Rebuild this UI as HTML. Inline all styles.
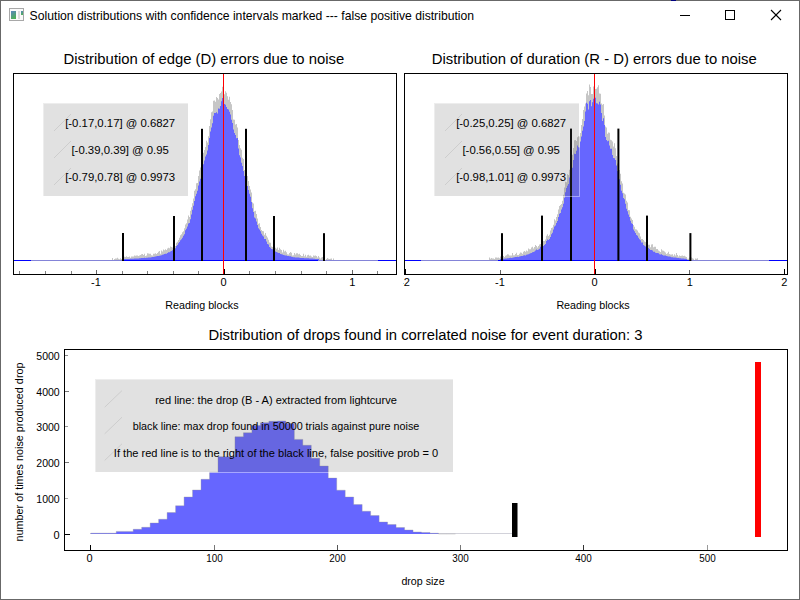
<!DOCTYPE html><html><head><meta charset="utf-8"><style>html,body{margin:0;padding:0;background:#fff;}svg{display:block;}text{font-family:"Liberation Sans",sans-serif;fill:#000;}</style></head><body>
<svg width="800" height="600" viewBox="0 0 800 600">
<rect x="0" y="0" width="800" height="600" fill="#fff"/>
<defs><clipPath id="clipR"><rect x="403" y="270" width="20" height="30"/></clipPath></defs>
<rect x="0.5" y="0.5" width="799" height="599" fill="none" stroke="#686868" stroke-width="1"/><rect x="671" y="0" width="5" height="1" fill="#000080"/>
<g shape-rendering="crispEdges">
<rect x="9.5" y="8.5" width="14" height="12" fill="#fafafa" stroke="#a8a8a8"/>
<defs><linearGradient id="ig" x1="0" y1="0" x2="0.4" y2="1"><stop offset="0" stop-color="#5a84c0"/><stop offset="1" stop-color="#4cae5a"/></linearGradient></defs>
<rect x="11" y="11" width="5" height="8" fill="url(#ig)"/>
<rect x="18" y="11" width="2" height="8" fill="#dcdcdc"/>
<rect x="21" y="11" width="2" height="4" fill="url(#ig)"/>
</g>
<text x="29.6" y="20" font-size="12.4" text-anchor="start" textLength="444.5" lengthAdjust="spacingAndGlyphs" >Solution distributions with confidence intervals marked --- false positive distribution</text>
<g stroke="#000" stroke-width="1" fill="none" shape-rendering="crispEdges">
<line x1="680" y1="15.5" x2="690" y2="15.5"/>
<rect x="725.5" y="10.5" width="9" height="9"/>
</g>
<g stroke="#000" stroke-width="1.1" fill="none"><line x1="771" y1="10" x2="781" y2="20"/><line x1="781" y1="10" x2="771" y2="20"/></g>
<text x="203.85" y="63.5" font-size="14.75" text-anchor="middle" textLength="280.6" lengthAdjust="spacingAndGlyphs" >Distribution of edge (D) errors due to noise</text>
<path d="M14,260V260.0H15V260.0H16V260.0H17V260.0H18V260.0H19V260.0H20V260.0H21V260.0H22V260.0H23V260.0H24V260.0H25V260.0H26V260.0H27V260.0H28V260.0H29V260.0H30V260.0H31V260.0H32V260.0H33V260.0H34V260.0H35V260.0H36V260.0H37V260.0H38V260.0H39V260.0H40V260.0H41V260.0H42V260.0H43V260.0H44V260.0H45V260.0H46V260.0H47V260.0H48V260.0H49V260.0H50V260.0H51V260.0H52V260.0H53V260.0H54V260.0H55V260.0H56V260.0H57V260.0H58V260.0H59V260.0H60V260.0H61V260.0H62V260.0H63V260.0H64V260.0H65V260.0H66V260.0H67V260.0H68V260.0H69V260.0H70V260.0H71V260.0H72V260.0H73V260.0H74V260.0H75V260.0H76V260.0H77V260.0H78V260.0H79V260.0H80V260.0H81V260.0H82V260.0H83V260.0H84V260.0H85V260.0H86V260.0H87V260.0H88V260.0H89V260.0H90V260.0H91V260.0H92V260.0H93V260.0H94V260.0H95V260.0H96V260.0H97V260.0H98V260.0H99V260.0H100V260.0H101V260.0H102V260.0H103V260.0H104V260.0H105V260.0H106V260.0H107V260.0H108V260.0H109V260.0H110V260.0H111V260.0H112V258.1H113V260.0H114V258.9H115V258.4H116V258.5H117V257.7H118V258.7H119V259.2H120V258.3H121V258.9H122V257.7H123V257.2H124V256.7H125V257.0H126V256.2H127V257.0H128V256.9H129V256.5H130V257.7H131V256.6H132V256.4H133V256.5H134V255.4H135V255.8H136V255.5H137V255.5H138V255.9H139V255.5H140V255.1H141V254.2H142V253.9H143V255.0H144V253.8H145V256.0H146V255.4H147V253.2H148V253.6H149V253.7H150V253.7H151V255.2H152V255.6H153V253.8H154V253.8H155V253.2H156V253.9H157V252.9H158V251.7H159V251.0H160V253.7H161V250.5H162V251.5H163V249.5H164V250.3H165V249.3H166V249.9H167V248.4H168V247.7H169V248.2H170V246.4H171V247.0H172V247.4H173V247.7H174V244.5H175V245.9H176V242.8H177V241.8H178V239.9H179V237.8H180V235.3H181V234.2H182V232.3H183V231.2H184V228.3H185V224.4H186V223.2H187V219.6H188V215.5H189V217.0H190V210.7H191V207.2H192V203.3H193V198.5H194V190.8H195V189.3H196V183.2H197V183.0H198V176.1H199V170.5H200V167.6H201V161.2H202V156.6H203V152.8H204V150.0H205V147.0H206V140.8H207V142.4H208V136.2H209V126.1H210V119.3H211V112.3H212V111.4H213V100.8H214V100.5H215V101.7H216V97.0H217V98.1H218V99.5H219V93.9H220V92.9H221V91.5H222V86.7H223V83.3H224V94.3H225V91.3H226V92.8H227V96.3H228V99.8H229V96.8H230V102.1H231V104.3H232V110.1H233V119.4H234V119.7H235V124.6H236V124.0H237V127.4H238V140.1H239V145.1H240V148.2H241V149.8H242V157.7H243V159.0H244V169.9H245V172.7H246V174.8H247V176.0H248V180.9H249V186.1H250V189.4H251V192.6H252V202.4H253V203.6H254V211.2H255V210.8H256V214.1H257V218.5H258V223.7H259V223.2H260V226.9H261V230.1H262V230.9H263V231.2H264V234.8H265V233.0H266V235.8H267V237.5H268V239.8H269V242.4H270V242.8H271V246.6H272V247.1H273V245.6H274V246.7H275V247.7H276V248.7H277V247.6H278V249.9H279V247.7H280V249.3H281V250.0H282V252.4H283V249.7H284V251.4H285V250.8H286V252.3H287V254.2H288V254.4H289V253.1H290V251.9H291V252.8H292V255.5H293V255.3H294V252.9H295V254.4H296V253.2H297V253.3H298V254.2H299V253.7H300V254.9H301V256.1H302V256.1H303V253.8H304V256.2H305V254.7H306V256.7H307V255.3H308V254.7H309V255.7H310V255.6H311V256.4H312V257.1H313V255.4H314V255.8H315V255.4H316V256.0H317V257.4H318V256.1H319V257.6H320V258.4H321V257.6H322V256.9H323V259.0H324V257.9H325V260.0H326V259.1H327V258.0H328V258.7H329V259.0H330V258.7H331V258.4H332V260.0H333V258.5H334V260.0H335V260.0H336V260.0H337V260.0H338V260.0H339V260.0H340V260.0H341V260.0H342V260.0H343V260.0H344V260.0H345V260.0H346V260.0H347V260.0H348V260.0H349V260.0H350V260.0H351V260.0H352V260.0H353V260.0H354V260.0H355V260.0H356V260.0H357V260.0H358V260.0H359V260.0H360V260.0H361V260.0H362V260.0H363V260.0H364V260.0H365V260.0H366V260.0H367V260.0H368V260.0H369V260.0H370V260.0H371V260.0H372V260.0H373V260.0H374V260.0H375V260.0H376V260.0H377V260.0H378V260.0H379V260.0H380V260.0H381V260.0H382V260.0H383V260.0H384V260.0H385V260.0H386V260.0H387V260.0H388V260.0H389V260.0H390V260.0H391V260.0H392V260.0H393V260.0H394V260.0H395V260.0H396V260Z" fill="#c6c6c6"/>
<path d="M14,260V260.0H15V260.0H16V260.0H17V260.0H18V260.0H19V260.0H20V260.0H21V260.0H22V260.0H23V260.0H24V260.0H25V260.0H26V260.0H27V260.0H28V260.0H29V260.0H30V260.0H31V260.0H32V260.0H33V260.0H34V260.0H35V260.0H36V260.0H37V260.0H38V260.0H39V260.0H40V260.0H41V260.0H42V260.0H43V260.0H44V260.0H45V260.0H46V260.0H47V260.0H48V260.0H49V260.0H50V260.0H51V260.0H52V260.0H53V260.0H54V260.0H55V260.0H56V260.0H57V260.0H58V260.0H59V260.0H60V260.0H61V260.0H62V260.0H63V260.0H64V260.0H65V260.0H66V260.0H67V260.0H68V260.0H69V260.0H70V260.0H71V260.0H72V260.0H73V260.0H74V260.0H75V260.0H76V260.0H77V260.0H78V260.0H79V260.0H80V260.0H81V260.0H82V260.0H83V260.0H84V260.0H85V260.0H86V260.0H87V260.0H88V260.0H89V260.0H90V260.0H91V260.0H92V260.0H93V260.0H94V260.0H95V260.0H96V260.0H97V260.0H98V260.0H99V260.0H100V260.0H101V260.0H102V260.0H103V260.0H104V260.0H105V260.0H106V260.0H107V260.0H108V260.0H109V260.0H110V260.0H111V260.0H112V260.0H113V260.0H114V260.0H115V260.0H116V260.0H117V260.0H118V260.0H119V260.0H120V260.0H121V260.0H122V260.0H123V259.0H124V259.0H125V259.0H126V259.0H127V258.9H128V258.9H129V258.9H130V258.8H131V258.7H132V258.7H133V258.7H134V258.6H135V258.6H136V258.4H137V258.4H138V258.4H139V258.3H140V258.3H141V258.1H142V258.1H143V258.0H144V257.8H145V258.0H146V257.8H147V257.7H148V257.5H149V257.6H150V257.5H151V257.3H152V257.1H153V257.0H154V256.8H155V256.5H156V256.2H157V256.0H158V256.0H159V255.8H160V255.4H161V255.2H162V254.8H163V254.5H164V254.1H165V253.8H166V253.8H167V253.0H168V252.2H169V252.2H170V251.6H171V251.1H172V250.3H173V250.0H174V248.2H175V248.3H176V246.1H177V244.9H178V243.3H179V242.1H180V240.2H181V239.3H182V237.8H183V235.8H184V234.3H185V230.3H186V228.8H187V226.5H188V223.4H189V223.0H190V219.2H191V214.4H192V209.7H193V205.7H194V201.0H195V196.2H196V193.7H197V190.7H198V185.5H199V181.6H200V178.8H201V173.5H202V167.5H203V164.2H204V160.6H205V156.6H206V154.5H207V150.5H208V145.0H209V138.0H210V131.4H211V127.6H212V123.3H213V115.8H214V112.9H215V113.0H216V112.3H217V113.6H218V108.6H219V108.7H220V106.0H221V101.2H222V97.9H223V98.0H224V104.1H225V104.7H226V106.9H227V108.9H228V109.4H229V111.7H230V114.5H231V119.7H232V123.0H233V129.5H234V133.0H235V135.1H236V138.3H237V137.9H238V148.5H239V155.2H240V157.6H241V162.8H242V166.1H243V171.0H244V176.1H245V179.4H246V182.4H247V186.0H248V189.9H249V193.8H250V196.8H251V202.0H252V208.2H253V212.0H254V217.5H255V218.4H256V221.6H257V225.1H258V228.2H259V229.5H260V231.2H261V233.7H262V235.5H263V236.4H264V239.0H265V238.9H266V241.4H267V243.9H268V244.4H269V246.9H270V247.7H271V248.9H272V249.3H273V250.8H274V251.4H275V251.5H276V252.1H277V252.4H278V252.9H279V253.1H280V253.9H281V254.3H282V254.5H283V254.9H284V255.2H285V255.4H286V255.6H287V255.9H288V256.0H289V256.2H290V256.3H291V256.7H292V257.0H293V257.2H294V257.3H295V257.6H296V257.6H297V257.5H298V257.6H299V257.7H300V257.9H301V257.9H302V258.1H303V258.1H304V258.2H305V258.2H306V258.2H307V258.3H308V258.3H309V258.5H310V258.5H311V258.6H312V258.6H313V258.7H314V258.8H315V258.9H316V258.9H317V258.9H318V259.0H319V260.0H320V260.0H321V260.0H322V260.0H323V260.0H324V260.0H325V260.0H326V260.0H327V260.0H328V260.0H329V260.0H330V260.0H331V260.0H332V260.0H333V260.0H334V260.0H335V260.0H336V260.0H337V260.0H338V260.0H339V260.0H340V260.0H341V260.0H342V260.0H343V260.0H344V260.0H345V260.0H346V260.0H347V260.0H348V260.0H349V260.0H350V260.0H351V260.0H352V260.0H353V260.0H354V260.0H355V260.0H356V260.0H357V260.0H358V260.0H359V260.0H360V260.0H361V260.0H362V260.0H363V260.0H364V260.0H365V260.0H366V260.0H367V260.0H368V260.0H369V260.0H370V260.0H371V260.0H372V260.0H373V260.0H374V260.0H375V260.0H376V260.0H377V260.0H378V260.0H379V260.0H380V260.0H381V260.0H382V260.0H383V260.0H384V260.0H385V260.0H386V260.0H387V260.0H388V260.0H389V260.0H390V260.0H391V260.0H392V260.0H393V260.0H394V260.0H395V260.0H396V260Z" fill="#6666ff"/>
<line x1="13" y1="260.5" x2="396" y2="260.5" stroke="#8484d8" stroke-width="1"/>
<line x1="13" y1="260.5" x2="31" y2="260.5" stroke="#0000ff" stroke-width="1"/>
<line x1="123" y1="260.5" x2="318" y2="260.5" stroke="#0000ff" stroke-width="1"/>
<line x1="378" y1="260.5" x2="396" y2="260.5" stroke="#0000ff" stroke-width="1"/>
<rect x="201" y="128.8" width="2" height="132.2" fill="#000"/>
<rect x="245" y="128.8" width="2" height="132.2" fill="#000"/>
<rect x="173" y="216" width="2" height="45" fill="#000"/>
<rect x="273" y="216" width="2" height="45" fill="#000"/>
<rect x="122" y="233" width="2" height="28" fill="#000"/>
<rect x="323" y="233.2" width="2" height="27.80000000000001" fill="#000"/>
<rect x="223" y="74" width="1" height="200" fill="#ff0000"/>
<rect x="43" y="103" width="145" height="93" fill="rgba(100,100,100,0.196)"/>
<rect x="43.5" y="103.5" width="145" height="93" fill="none" stroke="rgba(255,255,255,0.42)" stroke-width="1"/>
<line x1="54" y1="131" x2="71" y2="114" stroke="#c4c4c4" stroke-width="0.7"/>
<text x="120.2" y="127" font-size="11.1" text-anchor="middle" textLength="110" lengthAdjust="spacingAndGlyphs" >[-0.17,0.17] @ 0.6827</text>
<line x1="54" y1="158" x2="71" y2="141" stroke="#c4c4c4" stroke-width="0.7"/>
<text x="120.2" y="154" font-size="11.1" text-anchor="middle" textLength="97.5" lengthAdjust="spacingAndGlyphs" >[-0.39,0.39] @ 0.95</text>
<line x1="54" y1="185" x2="71" y2="168" stroke="#c4c4c4" stroke-width="0.7"/>
<text x="120.2" y="181" font-size="11.1" text-anchor="middle" textLength="110" lengthAdjust="spacingAndGlyphs" >[-0.79,0.78] @ 0.9973</text>
<rect x="13.5" y="73.5" width="383" height="201" fill="none" stroke="#000" stroke-width="1" shape-rendering="crispEdges"/>
<line x1="19.5" y1="271" x2="19.5" y2="274" stroke="#808080" stroke-width="1" shape-rendering="crispEdges"/>
<line x1="45.5" y1="271" x2="45.5" y2="274" stroke="#808080" stroke-width="1" shape-rendering="crispEdges"/>
<line x1="71.5" y1="271" x2="71.5" y2="274" stroke="#808080" stroke-width="1" shape-rendering="crispEdges"/>
<line x1="122.5" y1="271" x2="122.5" y2="274" stroke="#808080" stroke-width="1" shape-rendering="crispEdges"/>
<line x1="147.5" y1="271" x2="147.5" y2="274" stroke="#808080" stroke-width="1" shape-rendering="crispEdges"/>
<line x1="173.5" y1="271" x2="173.5" y2="274" stroke="#808080" stroke-width="1" shape-rendering="crispEdges"/>
<line x1="198.5" y1="271" x2="198.5" y2="274" stroke="#808080" stroke-width="1" shape-rendering="crispEdges"/>
<line x1="249.5" y1="271" x2="249.5" y2="274" stroke="#808080" stroke-width="1" shape-rendering="crispEdges"/>
<line x1="275.5" y1="271" x2="275.5" y2="274" stroke="#808080" stroke-width="1" shape-rendering="crispEdges"/>
<line x1="301.5" y1="271" x2="301.5" y2="274" stroke="#808080" stroke-width="1" shape-rendering="crispEdges"/>
<line x1="326.5" y1="271" x2="326.5" y2="274" stroke="#808080" stroke-width="1" shape-rendering="crispEdges"/>
<line x1="377.5" y1="271" x2="377.5" y2="274" stroke="#808080" stroke-width="1" shape-rendering="crispEdges"/>
<line x1="96.5" y1="270" x2="96.5" y2="274" stroke="#666" stroke-width="1" shape-rendering="crispEdges"/>
<text x="96" y="286" font-size="11" text-anchor="middle" >-1</text>
<line x1="224.5" y1="269" x2="224.5" y2="274" stroke="#000" stroke-width="1" shape-rendering="crispEdges"/>
<text x="223.5" y="286" font-size="11" text-anchor="middle" >0</text>
<line x1="352.5" y1="270" x2="352.5" y2="274" stroke="#666" stroke-width="1" shape-rendering="crispEdges"/>
<text x="352.3" y="286" font-size="11" text-anchor="middle" >1</text>
<text x="201.9" y="309" font-size="11" text-anchor="middle" textLength="73.2" lengthAdjust="spacingAndGlyphs" >Reading blocks</text>
<text x="594.25" y="63.5" font-size="14.75" text-anchor="middle" textLength="325" lengthAdjust="spacingAndGlyphs" >Distribution of duration (R - D) errors due to noise</text>
<path d="M405,260V260.0H406V260.0H407V260.0H408V260.0H409V260.0H410V260.0H411V260.0H412V260.0H413V260.0H414V260.0H415V260.0H416V260.0H417V260.0H418V260.0H419V260.0H420V260.0H421V260.0H422V260.0H423V260.0H424V260.0H425V260.0H426V260.0H427V260.0H428V260.0H429V260.0H430V260.0H431V260.0H432V260.0H433V260.0H434V260.0H435V260.0H436V260.0H437V260.0H438V260.0H439V260.0H440V260.0H441V260.0H442V260.0H443V260.0H444V260.0H445V260.0H446V260.0H447V260.0H448V260.0H449V260.0H450V260.0H451V260.0H452V260.0H453V260.0H454V260.0H455V260.0H456V260.0H457V260.0H458V260.0H459V260.0H460V260.0H461V260.0H462V260.0H463V260.0H464V260.0H465V260.0H466V260.0H467V260.0H468V260.0H469V260.0H470V260.0H471V260.0H472V260.0H473V260.0H474V260.0H475V260.0H476V260.0H477V260.0H478V260.0H479V260.0H480V260.0H481V260.0H482V260.0H483V260.0H484V260.0H485V260.0H486V260.0H487V260.0H488V260.0H489V257.6H490V258.8H491V257.9H492V258.4H493V258.6H494V258.9H495V257.6H496V257.5H497V257.7H498V257.6H499V258.2H500V256.6H501V255.8H502V255.9H503V256.1H504V256.9H505V255.7H506V255.2H507V254.3H508V254.4H509V255.4H510V255.6H511V255.5H512V253.1H513V255.2H514V255.2H515V254.0H516V252.8H517V255.0H518V255.0H519V253.7H520V252.6H521V252.8H522V253.7H523V251.8H524V251.1H525V251.7H526V250.6H527V251.2H528V248.4H529V249.3H530V249.3H531V247.4H532V246.7H533V248.6H534V247.1H535V244.9H536V246.1H537V247.4H538V246.1H539V244.5H540V243.9H541V244.5H542V242.2H543V241.1H544V241.0H545V239.5H546V235.8H547V234.3H548V236.1H549V234.8H550V230.4H551V228.1H552V227.5H553V224.7H554V219.2H555V220.6H556V217.1H557V214.3H558V209.4H559V206.1H560V205.1H561V204.0H562V200.7H563V194.8H564V187.4H565V181.8H566V182.2H567V174.2H568V175.0H569V169.8H570V166.2H571V162.9H572V154.7H573V148.1H574V140.3H575V140.0H576V140.9H577V137.3H578V136.3H579V136.6H580V133.1H581V125.0H582V118.9H583V109.9H584V106.6H585V103.4H586V93.4H587V90.9H588V95.3H589V84.6H590V87.1H591V93.9H592V94.0H593V86.6H594V80.5H595V89.1H596V88.7H597V87.2H598V85.2H599V93.6H600V93.8H601V103.4H602V104.8H603V104.0H604V115.4H605V126.4H606V127.6H607V133.8H608V132.4H609V132.7H610V139.7H611V140.3H612V141.6H613V146.4H614V143.2H615V148.2H616V156.0H617V163.6H618V165.2H619V170.0H620V173.8H621V181.3H622V183.5H623V192.7H624V193.4H625V194.5H626V200.8H627V202.6H628V209.9H629V210.3H630V216.7H631V218.6H632V220.0H633V225.1H634V226.8H635V229.3H636V229.4H637V230.5H638V232.4H639V233.2H640V236.5H641V238.9H642V239.0H643V240.1H644V241.5H645V242.1H646V243.8H647V244.5H648V244.8H649V244.7H650V247.3H651V244.4H652V244.2H653V247.3H654V246.7H655V246.8H656V248.9H657V249.1H658V250.4H659V251.2H660V252.0H661V249.3H662V250.6H663V250.7H664V251.5H665V252.6H666V254.0H667V253.3H668V251.8H669V253.9H670V254.5H671V254.5H672V254.3H673V255.8H674V254.3H675V255.6H676V253.0H677V255.0H678V256.4H679V255.5H680V256.0H681V255.7H682V255.6H683V255.9H684V255.7H685V256.4H686V256.9H687V258.8H688V258.7H689V257.5H690V258.8H691V257.6H692V258.2H693V258.8H694V260.0H695V258.4H696V258.7H697V258.3H698V260.0H699V260.0H700V260.0H701V260.0H702V260.0H703V260.0H704V260.0H705V260.0H706V260.0H707V260.0H708V260.0H709V260.0H710V260.0H711V260.0H712V260.0H713V260.0H714V260.0H715V260.0H716V260.0H717V260.0H718V260.0H719V260.0H720V260.0H721V260.0H722V260.0H723V260.0H724V260.0H725V260.0H726V260.0H727V260.0H728V260.0H729V260.0H730V260.0H731V260.0H732V260.0H733V260.0H734V260.0H735V260.0H736V260.0H737V260.0H738V260.0H739V260.0H740V260.0H741V260.0H742V260.0H743V260.0H744V260.0H745V260.0H746V260.0H747V260.0H748V260.0H749V260.0H750V260.0H751V260.0H752V260.0H753V260.0H754V260.0H755V260.0H756V260.0H757V260.0H758V260.0H759V260.0H760V260.0H761V260.0H762V260.0H763V260.0H764V260.0H765V260.0H766V260.0H767V260.0H768V260.0H769V260.0H770V260.0H771V260.0H772V260.0H773V260.0H774V260.0H775V260.0H776V260.0H777V260.0H778V260.0H779V260.0H780V260.0H781V260.0H782V260.0H783V260.0H784V260.0H785V260.0H786V260.0H787V260Z" fill="#c6c6c6"/>
<path d="M405,260V260.0H406V260.0H407V260.0H408V260.0H409V260.0H410V260.0H411V260.0H412V260.0H413V260.0H414V260.0H415V260.0H416V260.0H417V260.0H418V260.0H419V260.0H420V260.0H421V260.0H422V260.0H423V260.0H424V260.0H425V260.0H426V260.0H427V260.0H428V260.0H429V260.0H430V260.0H431V260.0H432V260.0H433V260.0H434V260.0H435V260.0H436V260.0H437V260.0H438V260.0H439V260.0H440V260.0H441V260.0H442V260.0H443V260.0H444V260.0H445V260.0H446V260.0H447V260.0H448V260.0H449V260.0H450V260.0H451V260.0H452V260.0H453V260.0H454V260.0H455V260.0H456V260.0H457V260.0H458V260.0H459V260.0H460V260.0H461V260.0H462V260.0H463V260.0H464V260.0H465V260.0H466V260.0H467V260.0H468V260.0H469V260.0H470V260.0H471V260.0H472V260.0H473V260.0H474V260.0H475V260.0H476V260.0H477V260.0H478V260.0H479V260.0H480V260.0H481V260.0H482V260.0H483V260.0H484V260.0H485V260.0H486V260.0H487V260.0H488V260.0H489V260.0H490V260.0H491V260.0H492V260.0H493V260.0H494V260.0H495V260.0H496V260.0H497V260.0H498V260.0H499V260.0H500V258.9H501V258.9H502V258.8H503V258.8H504V258.7H505V258.5H506V258.5H507V258.3H508V258.2H509V258.0H510V257.8H511V258.0H512V257.8H513V257.4H514V257.3H515V257.1H516V257.0H517V256.8H518V256.9H519V256.5H520V256.3H521V256.1H522V255.9H523V255.6H524V255.2H525V255.5H526V254.8H527V254.4H528V254.2H529V253.8H530V253.3H531V253.0H532V252.3H533V252.0H534V251.5H535V250.6H536V249.6H537V249.9H538V249.5H539V248.7H540V246.8H541V247.3H542V246.6H543V246.1H544V245.1H545V243.9H546V241.0H547V239.6H548V240.0H549V239.1H550V237.0H551V234.2H552V232.8H553V229.5H554V226.4H555V225.6H556V223.0H557V221.0H558V217.1H559V213.8H560V212.9H561V209.6H562V207.3H563V203.8H564V197.8H565V192.3H566V188.0H567V185.7H568V183.9H569V177.6H570V172.9H571V169.6H572V167.8H573V160.1H574V153.8H575V153.9H576V150.8H577V145.6H578V147.3H579V147.5H580V141.5H581V136.6H582V130.8H583V126.6H584V120.9H585V111.4H586V102.8H587V103.8H588V109.5H589V101.3H590V100.1H591V106.2H592V102.3H593V98.7H594V96.4H595V97.8H596V103.3H597V103.6H598V104.4H599V101.8H600V104.4H601V113.1H602V121.0H603V118.3H604V125.1H605V136.9H606V140.1H607V141.2H608V140.7H609V145.5H610V148.8H611V148.8H612V154.9H613V158.1H614V158.2H615V159.9H616V165.6H617V170.9H618V175.6H619V179.2H620V184.7H621V190.7H622V193.3H623V198.1H624V199.2H625V203.8H626V208.8H627V211.3H628V214.6H629V216.9H630V220.8H631V223.2H632V224.0H633V229.5H634V231.3H635V232.9H636V234.9H637V235.7H638V237.7H639V239.3H640V240.2H641V242.4H642V242.6H643V245.0H644V245.7H645V246.4H646V246.7H647V247.1H648V248.1H649V248.9H650V250.0H651V250.0H652V250.5H653V251.8H654V251.7H655V252.7H656V253.1H657V253.0H658V253.3H659V254.2H660V254.5H661V254.2H662V254.9H663V255.5H664V255.6H665V255.6H666V256.0H667V256.2H668V256.4H669V256.6H670V256.8H671V257.2H672V257.3H673V257.5H674V257.5H675V257.5H676V257.8H677V257.9H678V258.0H679V258.2H680V258.3H681V258.5H682V258.5H683V258.6H684V258.7H685V258.8H686V258.9H687V260.0H688V260.0H689V260.0H690V260.0H691V260.0H692V260.0H693V260.0H694V260.0H695V260.0H696V260.0H697V260.0H698V260.0H699V260.0H700V260.0H701V260.0H702V260.0H703V260.0H704V260.0H705V260.0H706V260.0H707V260.0H708V260.0H709V260.0H710V260.0H711V260.0H712V260.0H713V260.0H714V260.0H715V260.0H716V260.0H717V260.0H718V260.0H719V260.0H720V260.0H721V260.0H722V260.0H723V260.0H724V260.0H725V260.0H726V260.0H727V260.0H728V260.0H729V260.0H730V260.0H731V260.0H732V260.0H733V260.0H734V260.0H735V260.0H736V260.0H737V260.0H738V260.0H739V260.0H740V260.0H741V260.0H742V260.0H743V260.0H744V260.0H745V260.0H746V260.0H747V260.0H748V260.0H749V260.0H750V260.0H751V260.0H752V260.0H753V260.0H754V260.0H755V260.0H756V260.0H757V260.0H758V260.0H759V260.0H760V260.0H761V260.0H762V260.0H763V260.0H764V260.0H765V260.0H766V260.0H767V260.0H768V260.0H769V260.0H770V260.0H771V260.0H772V260.0H773V260.0H774V260.0H775V260.0H776V260.0H777V260.0H778V260.0H779V260.0H780V260.0H781V260.0H782V260.0H783V260.0H784V260.0H785V260.0H786V260.0H787V260Z" fill="#6666ff"/>
<line x1="404" y1="260.5" x2="787" y2="260.5" stroke="#8484d8" stroke-width="1"/>
<line x1="404" y1="260.5" x2="421" y2="260.5" stroke="#0000ff" stroke-width="1"/>
<line x1="498" y1="260.5" x2="691" y2="260.5" stroke="#0000ff" stroke-width="1"/>
<line x1="769" y1="260.5" x2="787" y2="260.5" stroke="#0000ff" stroke-width="1"/>
<rect x="570" y="128.6" width="2" height="132.4" fill="#000"/>
<rect x="617.4" y="128.6" width="2" height="132.4" fill="#000"/>
<rect x="541" y="215.6" width="2" height="45.400000000000006" fill="#000"/>
<rect x="646" y="215.6" width="2" height="45.400000000000006" fill="#000"/>
<rect x="501" y="233.2" width="2" height="27.80000000000001" fill="#000"/>
<rect x="689.4" y="233.1" width="2" height="27.900000000000006" fill="#000"/>
<rect x="594" y="74" width="1" height="200" fill="#ff0000"/>
<rect x="434" y="103" width="145" height="93" fill="rgba(100,100,100,0.196)"/>
<rect x="434.5" y="103.5" width="145" height="93" fill="none" stroke="rgba(255,255,255,0.42)" stroke-width="1"/>
<line x1="445" y1="131" x2="462" y2="114" stroke="#c4c4c4" stroke-width="0.7"/>
<text x="511.2" y="127" font-size="11.1" text-anchor="middle" textLength="110" lengthAdjust="spacingAndGlyphs" >[-0.25,0.25] @ 0.6827</text>
<line x1="445" y1="158" x2="462" y2="141" stroke="#c4c4c4" stroke-width="0.7"/>
<text x="511.2" y="154" font-size="11.1" text-anchor="middle" textLength="97.5" lengthAdjust="spacingAndGlyphs" >[-0.56,0.55] @ 0.95</text>
<line x1="445" y1="185" x2="462" y2="168" stroke="#c4c4c4" stroke-width="0.7"/>
<text x="511.2" y="181" font-size="11.1" text-anchor="middle" textLength="110" lengthAdjust="spacingAndGlyphs" >[-0.98,1.01] @ 0.9973</text>
<rect x="404.5" y="73.5" width="383" height="201" fill="none" stroke="#000" stroke-width="1" shape-rendering="crispEdges"/>
<line x1="405.5" y1="269" x2="405.5" y2="274" stroke="#000" stroke-width="1" shape-rendering="crispEdges"/>
<text x="405" y="286" font-size="11" text-anchor="middle"  clip-path="url(#clipR)">-2</text>
<line x1="500.5" y1="270" x2="500.5" y2="274" stroke="#666" stroke-width="1" shape-rendering="crispEdges"/>
<text x="500" y="286" font-size="11" text-anchor="middle" >-1</text>
<line x1="595.5" y1="269" x2="595.5" y2="274" stroke="#000" stroke-width="1" shape-rendering="crispEdges"/>
<text x="594.6" y="286" font-size="11" text-anchor="middle" >0</text>
<line x1="689.5" y1="270" x2="689.5" y2="274" stroke="#666" stroke-width="1" shape-rendering="crispEdges"/>
<text x="689.8" y="286" font-size="11" text-anchor="middle" >1</text>
<line x1="784.5" y1="269" x2="784.5" y2="274" stroke="#000" stroke-width="1" shape-rendering="crispEdges"/>
<text x="784.3" y="286" font-size="11" text-anchor="middle" >2</text>
<text x="593" y="309" font-size="11" text-anchor="middle" textLength="73.2" lengthAdjust="spacingAndGlyphs" >Reading blocks</text>
<text x="425.5" y="339.75" font-size="14.75" text-anchor="middle" textLength="434" lengthAdjust="spacingAndGlyphs" >Distribution of drops found in correlated noise for event duration: 3</text>
<line x1="90" y1="533.5" x2="512" y2="533.5" stroke="#d2d2da" stroke-width="1.2"/>
<path d="M90.80,534V533.2H99.28V534ZM99.28,534V533.2H107.76V534ZM107.76,534V533.2H116.24V534ZM116.24,534V531.4H124.72V534ZM124.72,534V531.4H133.20V534ZM133.20,534V529.3H141.68V534ZM141.68,534V527.3H150.16V534ZM150.16,534V523H158.64V534ZM158.64,534V519.25H167.12V534ZM167.12,534V512.5H175.60V534ZM175.60,534V505.75H184.08V534ZM184.08,534V497H192.56V534ZM192.56,534V490H201.04V534ZM201.04,534V479.3H209.52V534ZM209.52,534V472.3H218.00V534ZM218.00,534V456.7H226.48V534ZM226.48,534V456.7H234.96V534ZM234.96,534V436.8H243.44V534ZM243.44,534V432.75H251.92V534ZM251.92,534V425.5H260.40V534ZM260.40,534V422.8H268.88V534ZM268.88,534V421.3H277.36V534ZM277.36,534V421H285.84V534ZM285.84,534V423.5H294.32V534ZM294.32,534V439.4H302.80V534ZM302.80,534V445.3H311.28V534ZM311.28,534V458.3H319.76V534ZM319.76,534V466H328.24V534ZM328.24,534V478.1H336.72V534ZM336.72,534V490.2H345.20V534ZM345.20,534V497H353.68V534ZM353.68,534V504.5H362.16V534ZM362.16,534V511.25H370.64V534ZM370.64,534V515.5H379.12V534ZM379.12,534V522H387.60V534ZM387.60,534V524.5H396.08V534ZM396.08,534V527.5H404.56V534ZM404.56,534V530H413.04V534ZM413.04,534V532H421.52V534ZM421.52,534V532.5H430.00V534ZM430.00,534V533.25H438.48V534ZM438.48,534V534H446.96V534ZM446.96,534V534H455.44V534Z" fill="#6666ff"/>
<path d="M90.8,534V533.2H99.28V533.2H107.76V533.2H116.24V531.4H124.72V531.4H133.20V529.3H141.68V527.3H150.16V523H158.64V519.25H167.12V512.5H175.60V505.75H184.08V497H192.56V490H201.04V479.3H209.52V472.3H218.00V456.7H226.48V456.7H234.96V436.8H243.44V432.75H251.92V425.5H260.40V422.8H268.88V421.3H277.36V421H285.84V423.5H294.32V439.4H302.80V445.3H311.28V458.3H319.76V466H328.24V478.1H336.72V490.2H345.20V497H353.68V504.5H362.16V511.25H370.64V515.5H379.12V522H387.60V524.5H396.08V527.5H404.56V530H413.04V532H421.52V532.5H430.00V533.25H438.48V534H446.96V534H455.44" fill="none" stroke="rgba(150,150,150,0.35)" stroke-width="1"/>
<rect x="512" y="503" width="5.5" height="34" fill="#000"/>
<rect x="755" y="362" width="6" height="175" fill="#ff0000"/>
<rect x="95" y="379" width="358" height="93" fill="rgba(100,100,100,0.196)"/>
<rect x="95.5" y="379.5" width="358" height="93" fill="none" stroke="rgba(255,255,255,0.42)" stroke-width="1"/>
<line x1="104.7" y1="407.20000000000005" x2="122" y2="390.6" stroke="#c4c4c4" stroke-width="0.7"/>
<text x="276" y="403.6" font-size="11.1" text-anchor="middle" textLength="241.7" lengthAdjust="spacingAndGlyphs" >red line: the drop (B - A) extracted from lightcurve</text>
<line x1="104.7" y1="433.80000000000007" x2="122" y2="417.20000000000005" stroke="#c4c4c4" stroke-width="0.7"/>
<text x="276" y="430.20000000000005" font-size="11.1" text-anchor="middle" textLength="286.7" lengthAdjust="spacingAndGlyphs" >black line: max drop found in 50000 trials against pure noise</text>
<line x1="104.7" y1="460.40000000000003" x2="122" y2="443.8" stroke="#c4c4c4" stroke-width="0.7"/>
<text x="276" y="456.8" font-size="11.1" text-anchor="middle" textLength="324.3" lengthAdjust="spacingAndGlyphs" >If the red line is to the right of the black line, false positive prob = 0</text>
<rect x="64.5" y="349.5" width="723" height="201" fill="none" stroke="#000" stroke-width="1" shape-rendering="crispEdges"/>
<line x1="65" y1="534.5" x2="70" y2="534.5" stroke="#000" stroke-width="1" shape-rendering="crispEdges"/>
<text x="59.7" y="538.6" font-size="11" text-anchor="end" >0</text>
<line x1="65" y1="498.5" x2="68" y2="498.5" stroke="#aaa" stroke-width="1" shape-rendering="crispEdges"/>
<text x="59.7" y="502.6" font-size="11" text-anchor="end" textLength="23.4" lengthAdjust="spacingAndGlyphs" >1000</text>
<line x1="65" y1="462.5" x2="69" y2="462.5" stroke="#777" stroke-width="1" shape-rendering="crispEdges"/>
<text x="59.7" y="466.6" font-size="11" text-anchor="end" textLength="23.4" lengthAdjust="spacingAndGlyphs" >2000</text>
<line x1="65" y1="426.5" x2="68" y2="426.5" stroke="#999" stroke-width="1" shape-rendering="crispEdges"/>
<text x="59.7" y="430.6" font-size="11" text-anchor="end" textLength="23.4" lengthAdjust="spacingAndGlyphs" >3000</text>
<line x1="65" y1="391.5" x2="69" y2="391.5" stroke="#777" stroke-width="1" shape-rendering="crispEdges"/>
<text x="59.7" y="395.6" font-size="11" text-anchor="end" textLength="23.4" lengthAdjust="spacingAndGlyphs" >4000</text>
<line x1="65" y1="355.5" x2="68" y2="355.5" stroke="#888" stroke-width="1" shape-rendering="crispEdges"/>
<text x="59.7" y="359.6" font-size="11" text-anchor="end" textLength="23.4" lengthAdjust="spacingAndGlyphs" >5000</text>
<line x1="90.5" y1="545" x2="90.5" y2="550" stroke="#000" stroke-width="1" shape-rendering="crispEdges"/>
<text x="89.5" y="562" font-size="11" text-anchor="middle" >0</text>
<line x1="214.5" y1="545" x2="214.5" y2="550" stroke="#777" stroke-width="1" shape-rendering="crispEdges"/>
<text x="214.5" y="562" font-size="11" text-anchor="middle" textLength="16.5" lengthAdjust="spacingAndGlyphs" >100</text>
<line x1="337.5" y1="545" x2="337.5" y2="550" stroke="#555" stroke-width="1" shape-rendering="crispEdges"/>
<text x="337.5" y="562" font-size="11" text-anchor="middle" textLength="16.5" lengthAdjust="spacingAndGlyphs" >200</text>
<line x1="460.5" y1="545" x2="460.5" y2="550" stroke="#777" stroke-width="1" shape-rendering="crispEdges"/>
<text x="460.5" y="562" font-size="11" text-anchor="middle" textLength="16.5" lengthAdjust="spacingAndGlyphs" >300</text>
<line x1="583.5" y1="545" x2="583.5" y2="550" stroke="#333" stroke-width="1" shape-rendering="crispEdges"/>
<text x="583.5" y="562" font-size="11" text-anchor="middle" textLength="16.5" lengthAdjust="spacingAndGlyphs" >400</text>
<line x1="707.5" y1="545" x2="707.5" y2="550" stroke="#999" stroke-width="1" shape-rendering="crispEdges"/>
<text x="707.5" y="562" font-size="11" text-anchor="middle" textLength="16.5" lengthAdjust="spacingAndGlyphs" >500</text>
<text x="423" y="584.75" font-size="11" text-anchor="middle" textLength="43.2" lengthAdjust="spacingAndGlyphs" >drop size</text>
<text x="0" y="0" font-size="11" text-anchor="middle" textLength="179" lengthAdjust="spacingAndGlyphs" transform="translate(23.2,452) rotate(-90)">number of times noise produced drop</text>
</svg></body></html>
